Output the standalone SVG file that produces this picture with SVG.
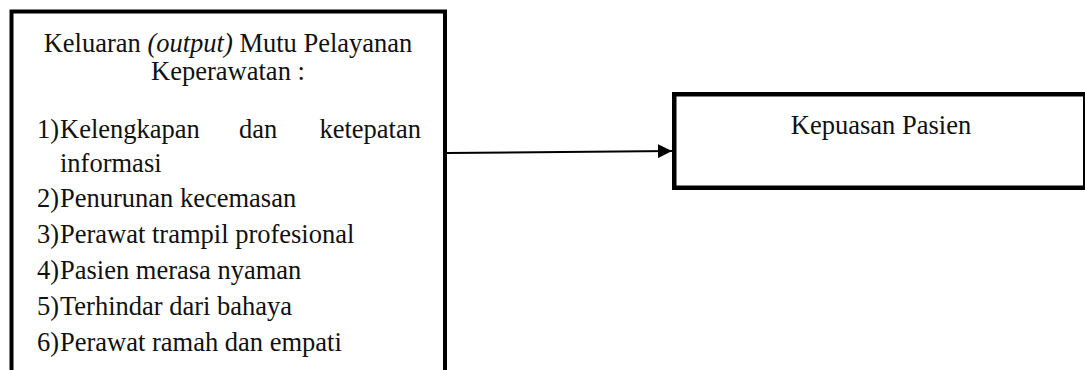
<svg xmlns="http://www.w3.org/2000/svg" width="1085" height="370" viewBox="0 0 1085 370">
  <defs>
    <style>
      .box { fill: #ffffff; stroke: #000000; }
      .t { font-family: "Liberation Serif", "Times New Roman", serif; font-size: 26.5px; fill: #111111; }
      .mid { text-anchor: middle; }
      .end { text-anchor: end; }
      .edge { stroke: #000000; stroke-width: 2; fill: none; }
    </style>
    <marker id="arrow" viewBox="0 0 14 14" refX="14" refY="7" markerWidth="14" markerHeight="14" markerUnits="userSpaceOnUse" orient="auto">
      <path d="M0,0 L14,7 L0,14 Z" fill="#000000"/>
    </marker>
  </defs>
  <rect width="1085" height="370" fill="#ffffff"/>

  <g id="connectors">
    <line class="edge" x1="447" y1="153" x2="672" y2="151" marker-end="url(#arrow)"/>
  </g>

  <g id="node-output">
    <rect class="box" x="11.5" y="11.5" width="433.5" height="380" stroke-width="4"/>
    <text class="t mid" x="228" y="52">Keluaran <tspan font-style="italic">(output)</tspan> Mutu Pelayanan</text>
    <text class="t mid" x="228" y="80">Keperawatan :</text>
    <text class="t" x="37" y="138">1)</text>
    <text class="t" x="60" y="138">Kelengkapan</text>
    <text class="t" x="239" y="138">dan</text>
    <text class="t end" x="421" y="138">ketepatan</text>
    <text class="t" x="60" y="172">informasi</text>
    <text class="t" x="37" y="207">2)</text>
    <text class="t" x="60" y="207">Penurunan kecemasan</text>
    <text class="t" x="37" y="243">3)</text>
    <text class="t" x="60" y="243">Perawat trampil profesional</text>
    <text class="t" x="37" y="279">4)</text>
    <text class="t" x="60" y="279">Pasien merasa nyaman</text>
    <text class="t" x="37" y="315">5)</text>
    <text class="t" x="60" y="315">Terhindar dari bahaya</text>
    <text class="t" x="37" y="351">6)</text>
    <text class="t" x="60" y="351">Perawat ramah dan empati</text>
  </g>

  <g id="node-kepuasan">
    <rect class="box" x="674.25" y="94.25" width="411" height="93.5" stroke-width="4.5"/>
    <text class="t mid" x="881" y="134" font-size="26">Kepuasan Pasien</text>
  </g>
</svg>
